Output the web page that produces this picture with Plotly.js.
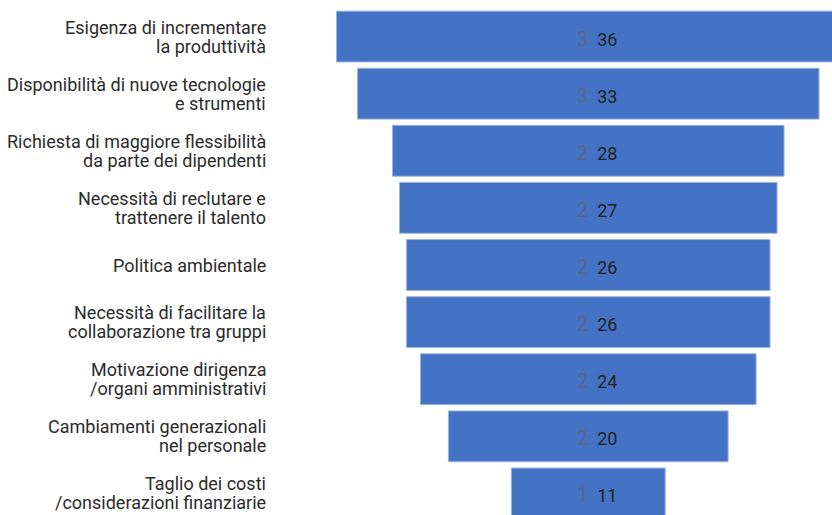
<!DOCTYPE html>
<html><head><meta charset="utf-8">
<script src="https://cdn.plot.ly/plotly-3.0.1.min.js"></script>
<style>html,body{margin:0;padding:0;overflow:hidden;background:#fff}#chart{width:840px;height:522px}</style>
</head><body><div id="chart"></div>
<script>
const categories = [
  "Esigenza di incrementare<br>la produttività",
  "Disponibilità di nuove tecnologie<br>e strumenti",
  "Richiesta di maggiore flessibilità<br>da parte dei dipendenti",
  "Necessità di reclutare e<br>trattenere il talento",
  "Politica ambientale",
  "Necessità di facilitare la<br>collaborazione tra gruppi",
  "Motivazione dirigenza<br>/organi amministrativi",
  "Cambiamenti generazionali<br>nel personale",
  "Taglio dei costi<br>/considerazioni finanziarie"
];
const values = [36, 33, 28, 27, 26, 26, 24, 20, 11];

const annotations = [];
categories.forEach((c, i) => {
  annotations.push({
    x: 0, y: c, xref: 'x', yref: 'y', showarrow: false, xshift: 9, yshift: -2,
    text: "<span style='color:#5b6680;font-size:20px'>" + String(values[i]).charAt(0) + "</span>\u00A0\u00A0" + values[i],
    font: {family: 'Roboto', size: 18, color: '#222'}
  });
  const lines = c.split('<br>');
  const n = lines.length;
  lines.forEach((ln, k) => {
    annotations.push({
      x: 0, y: c, xref: 'paper', yref: 'y', xanchor: 'right', showarrow: false,
      xshift: -8, yshift: (n - 1) * 9.5 - k * 19,
      text: ln, borderpad: 0,
      font: {family: 'Roboto', size: 18, color: '#2b2b2b'}
    });
  });
});

const data = [{
  type: 'funnel',
  y: categories,
  x: values,
  textinfo: 'none',
  marker: {color: '#4472C4', line: {color: '#9DB4E0', width: 1}},
  connector: {visible: false},
  hoverinfo: 'none'
}];

const layout = {
  width: 840, height: 522,
  margin: {l: 275, r: 0, t: 8, b: 0, pad: 0},
  paper_bgcolor: '#fff', plot_bgcolor: '#fff',
  font: {family: 'Roboto', size: 16, color: '#333'},
  showlegend: false,
  funnelgap: 0.11,
  xaxis: {range: [-22.4, 18.0], visible: false, fixedrange: true},
  yaxis: {type: 'category', categoryorder: 'array', categoryarray: categories, autorange: 'reversed',
          showgrid: false, zeroline: false, showline: false, ticks: '', showticklabels: false},
  annotations: annotations
};

Plotly.newPlot('chart', data, layout, {staticPlot: true, displayModeBar: false});
</script></body></html>
